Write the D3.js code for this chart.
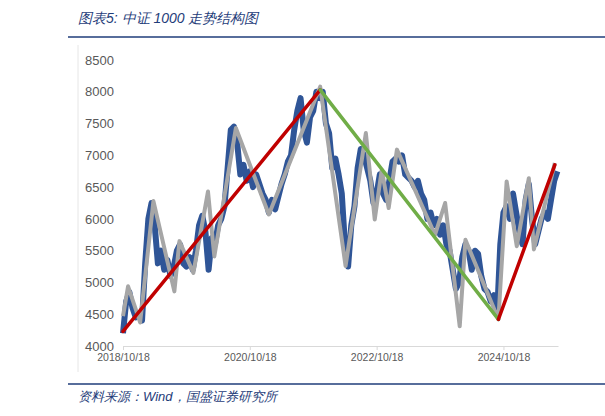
<!DOCTYPE html>
<html><head><meta charset="utf-8">
<script src="https://cdn.jsdelivr.net/npm/d3@7"></script>
<style>body{margin:0;background:#fff}text{font-family:"Liberation Sans",Arial,sans-serif}</style>
</head><body><svg id="c" width="605" height="416"></svg>
<script>
// index, decimal years
const blueT = [2018.80,2018.85,2018.90,2018.95,2019.00,2019.05,2019.10,2019.15,2019.20,2019.25,2019.30,2019.35,2019.40,2019.45,2019.50,2019.55,2019.60,2019.65,2019.70,2019.75,2019.80,2019.85,2019.90,2019.95,2020.00,2020.05,2020.10,2020.15,2020.20,2020.25,2020.30,2020.35,2020.40,2020.45,2020.50,2020.55,2020.60,2020.65,2020.70,2020.75,2020.80,2020.85,2020.90,2020.95,2021.00,2021.05,2021.10,2021.15,2021.20,2021.25,2021.30,2021.35,2021.40,2021.45,2021.50,2021.55,2021.60,2021.65,2021.70,2021.75,2021.80,2021.85,2021.90,2021.95,2022.00,2022.05,2022.10,2022.15,2022.20,2022.25,2022.30,2022.35,2022.40,2022.45,2022.50,2022.55,2022.60,2022.65,2022.70,2022.75,2022.80,2022.85,2022.90,2022.95,2023.00,2023.05,2023.10,2023.15,2023.20,2023.25,2023.30,2023.35,2023.40,2023.45,2023.50,2023.55,2023.60,2023.65,2023.70,2023.75,2023.80,2023.85,2023.90,2023.95,2024.00,2024.05,2024.10,2024.15,2024.20,2024.25,2024.30,2024.35,2024.40,2024.45,2024.50,2024.55,2024.60,2024.65,2024.70,2024.75,2024.80,2024.85,2024.90,2024.95,2025.00,2025.05,2025.10,2025.15,2025.20,2025.25,2025.30,2025.35,2025.40,2025.45,2025.50,2025.55,2025.60,2025.65];
const blueV = [4200,4700,4850,4600,4450,4500,4400,5300,6000,6250,5900,5300,5500,5200,5350,5100,5250,5500,5600,5300,5250,5400,5200,5500,5900,6050,5800,5200,5700,5600,5900,6000,6200,6800,7400,7450,7200,6700,6850,6600,6750,6500,6700,6550,6400,6300,6100,6300,6150,6350,6550,6700,6900,7000,7400,7700,7900,7400,7200,7600,7700,8000,7900,8000,7500,7350,6800,6950,6700,6400,5600,5250,5900,6200,6800,7100,7000,6800,6600,6250,6400,6700,6400,6300,6600,6900,6950,6900,7000,6700,6650,6600,6500,6600,6400,6300,6000,6100,5900,6000,5750,5900,5600,5500,5200,4900,5000,5400,5600,5500,5200,5500,5450,5100,4900,4850,4700,4800,4500,5600,6100,6200,6000,6400,6100,5800,5600,6300,6550,6000,5600,5800,6000,6100,6000,6300,6600,6750];
const greyT = [2018.80,2018.88,2019.07,2019.28,2019.61,2019.69,2019.91,2020.14,2020.24,2020.58,2021.10,2021.91,2022.31,2022.63,2022.77,2022.88,2022.99,2023.12,2023.72,2023.88,2024.11,2024.20,2024.72,2024.85,2025.01,2025.20,2025.28,2025.61];
const greyV = [4470,4940,4370,6280,4860,5650,5150,6430,5410,7430,6070,8080,5260,7350,5990,6770,6170,7090,5750,6250,4310,5670,4420,6590,5570,6640,5520,6880];
const trendT = [2018.80,2021.91,2024.72,2025.61];
const trendV = [4230,8030,4420,6850];
const trendColors = ["#c00000","#70ad47","#c00000"];
const yTicks = [4000,4500,5000,5500,6000,6500,7000,7500,8000,8500];
const xTicks = [2018.8,2020.8,2022.8,2024.8];
const xLabels = ["2018/10/18","2020/10/18","2022/10/18","2024/10/18"];

const svg = d3.select("#c");
const x = d3.scaleLinear().domain([2018.8,2025.66]).range([123,558]);
const y = d3.scaleLinear().domain([4000,8500]).range([346,60]);

// header and footer
svg.append("text").attr("x",78).attr("y",23).attr("fill","#1f3d7a").attr("font-size",14)
  .attr("font-style","italic").attr("font-family","Noto Sans CJK SC").text("图表5:  中证 1000 走势结构图");
svg.append("line").attr("x1",68).attr("x2",605).attr("y1",37).attr("y2",37).attr("stroke","#1f3d7a").attr("stroke-width",1.5);
svg.append("line").attr("x1",68).attr("x2",605).attr("y1",384).attr("y2",384).attr("stroke","#1f3d7a").attr("stroke-width",1.5);
svg.append("text").attr("x",78).attr("y",401).attr("fill","#1f3d7a").attr("font-size",13)
  .attr("font-style","italic").attr("font-family","Noto Sans CJK SC").text("资料来源：Wind，国盛证券研究所");

svg.append("line").attr("x1",78).attr("x2",78).attr("y1",45).attr("y2",372).attr("stroke","#e6e6e6");

// axes
const ya = svg.append("g").attr("transform","translate(114,0)")
  .call(d3.axisLeft(y).tickValues(yTicks).tickFormat(d3.format("d")).tickSize(0).tickPadding(0));
ya.select(".domain").remove();
ya.selectAll("text").attr("fill","#595959").attr("font-size",13);

const xa = svg.append("g").attr("transform","translate(0,346)")
  .call(d3.axisBottom(x).tickValues(xTicks).tickFormat((d,i)=>xLabels[i]).tickSize(4).tickSizeOuter(0).tickPadding(4));
xa.select(".domain").attr("stroke","#d9d9d9");
xa.selectAll("line").attr("stroke","#d9d9d9");
xa.selectAll("text").attr("fill","#595959").attr("font-size",10.5);

const line = d3.line().x(d=>x(d[0])).y(d=>y(d[1]));
svg.append("path").datum(d3.zip(blueT,blueV)).attr("d",line).attr("fill","none")
  .attr("stroke","#2f5597").attr("stroke-width",6).attr("stroke-linejoin","round");
svg.append("path").datum(d3.zip(greyT,greyV)).attr("d",line).attr("fill","none")
  .attr("stroke","#a6a6a6").attr("stroke-width",4).attr("stroke-linejoin","round");
const tp = d3.zip(trendT,trendV);
trendColors.forEach((c,i)=>{
  svg.append("path").datum([tp[i],tp[i+1]]).attr("d",line).attr("fill","none")
    .attr("stroke",c).attr("stroke-width",3.5).attr("stroke-linecap","round");
});
</script></body></html>
